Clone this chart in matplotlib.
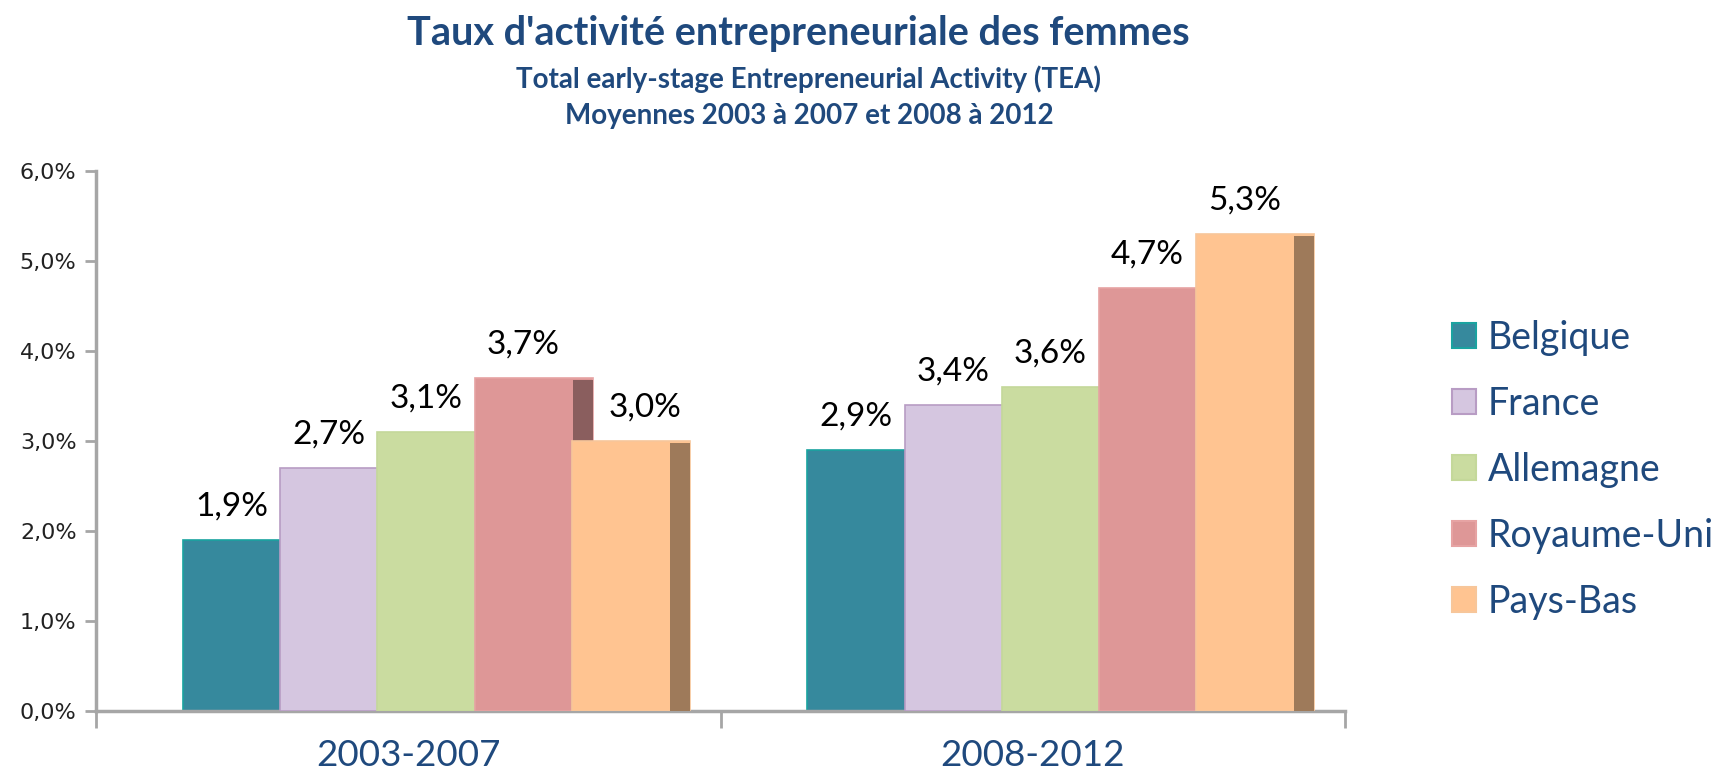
#!/usr/bin/env python3
# -*- coding: utf-8 -*-

# Taux d'activité entrepreneuriale des femmes (TEA), moyennes par période

import matplotlib
matplotlib.use("Agg")
import matplotlib.pyplot as plt
from matplotlib.patches import Patch
from matplotlib.ticker import FuncFormatter
import numpy as np

# Données
periodes = ["2003-2007", "2008-2012"]
pays = ["Belgique", "France", "Allemagne", "Royaume-Uni", "Pays-Bas"]
belgique = [1.9, 2.9]
france = [2.7, 3.4]
allemagne = [3.1, 3.6]
royaume_uni = [3.7, 4.7]
pays_bas = [3.0, 5.3]
series = [belgique, france, allemagne, royaume_uni, pays_bas]

couleurs = ["#36899D", "#D5C6E0", "#CADCA0", "#DE9797", "#FFC491"]
bords = ["#1AA3A0", "#B89CC4", "#C4D89A", "#E6A3A3", "#F7C69A"]
bleu = "#1F497D"


def assombrir(c, f=0.62):
    rgb = np.array(matplotlib.colors.to_rgb(c))
    return tuple(rgb * f)


def fmt_pct(v, pos=None):
    return f"{v:.1f}%".replace(".", ",")


if __name__ == "__main__":
    plt.rcParams['font.family'] = ['Lato', 'DejaVu Sans']

    fig = plt.figure(figsize=(17.28, 7.8), dpi=100)
    ax = fig.add_axes([96/1728, 1-711/780, (1345-96)/1728, (711-171)/780])

    x = np.arange(len(periodes))
    decal = -0.361    # bord gauche de la 1re barre par rapport au centre
    pas = 0.1557      # décalage entre barres
    larg = 0.189      # largeur réelle (barres qui se chevauchent)
    cote = 0.032      # face latérale sombre

    for i, vals in enumerate(series):
        gauche = x + decal + i*pas
        ax.bar(gauche, vals, width=larg, align='edge', color=couleurs[i],
               edgecolor=bords[i], linewidth=1.2, zorder=2+2*i)
        ax.bar(gauche + larg - cote, np.array(vals) - 0.025, width=cote,
               align='edge', color=assombrir(couleurs[i]), linewidth=0,
               zorder=3+2*i)
        for j, (xg, v) in enumerate(zip(gauche, vals)):
            xc = xg + pas/2
            # étiquette décalée si la face sombre de la barre précédente dépasse
            if i > 0 and series[i-1][j] > v:
                xc += 0.04
            ax.annotate(fmt_pct(v), (xc, v), xytext=(0, 24),
                        textcoords='offset points', ha='center', va='center',
                        fontsize=24, color='black', zorder=20)

    ax.set_xlim(-0.5, 1.5)
    ax.set_ylim(0, 6)
    ax.set_yticks(np.arange(0, 7, 1))
    ax.yaxis.set_major_formatter(FuncFormatter(fmt_pct))
    for lab in ax.get_yticklabels():
        lab.set_fontfamily('DejaVu Sans')
        lab.set_fontsize(16)
        lab.set_color('#222222')

    ax.set_xticks([-0.5, 0.5, 1.5])
    ax.set_xticklabels([])
    ax.set_xticks(x, minor=True)
    ax.set_xticklabels(periodes, minor=True, fontsize=26.5, color=bleu)
    ax.tick_params(axis='x', which='major', length=12, width=2, color='#A6A6A6')
    ax.tick_params(axis='x', which='minor', length=0, pad=20)
    ax.tick_params(axis='y', length=8, width=2, color='#A6A6A6', pad=6)

    for s in ['top', 'right']:
        ax.spines[s].set_visible(False)
    for s in ['left', 'bottom']:
        ax.spines[s].set_color('#A6A6A6')
        ax.spines[s].set_linewidth(2.5)

    # Titre
    fig.text(798/1728, 1-33/780, "Taux d'activité entrepreneuriale des femmes",
             ha='center', va='center', fontsize=28.5, fontweight='bold', color=bleu)
    fig.text(809/1728, 1-79/780, "Total early-stage Entrepreneurial Activity (TEA)",
             ha='center', va='center', fontsize=20, fontweight='bold', color=bleu)
    fig.text(809/1728, 1-116/780, "Moyennes 2003 à 2007 et 2008 à 2012",
             ha='center', va='center', fontsize=20, fontweight='bold', color=bleu)

    # Légende
    poignees = [Patch(facecolor=couleurs[i], edgecolor=bords[i], linewidth=1.5)
                for i in range(len(pays))]
    leg = fig.legend(poignees, pays, loc='center left',
                     bbox_to_anchor=(1452/1728, 1-470/780), frameon=False,
                     fontsize=27, handlelength=0.65, handleheight=0.65,
                     handletextpad=0.3, labelspacing=0.8, borderpad=0,
                     borderaxespad=0)
    for t in leg.get_texts():
        t.set_color(bleu)

    fig.savefig('out.png', dpi=100)
